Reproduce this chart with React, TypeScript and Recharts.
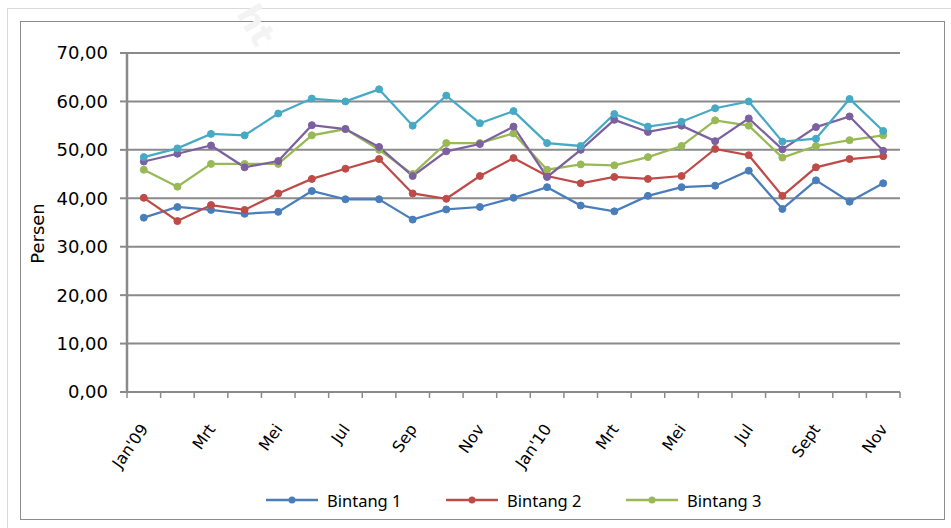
import { LineChart, Line, XAxis, YAxis, CartesianGrid, Legend } from 'recharts'

const months = [
  "Jan'09", 'Feb', 'Mrt', 'Apr', 'Mei', 'Jun', 'Jul', 'Agu', 'Sep', 'Okt', 'Nov', 'Des',
  "Jan'10", 'Feb', 'Mrt', 'Apr', 'Mei', 'Jun', 'Jul', 'Agu', 'Sept', 'Okt', 'Nov'
]

const bintang1 = [36.0, 38.2, 37.6, 36.8, 37.2, 41.5, 39.8, 39.8, 35.6, 37.7, 38.2, 40.1, 42.3, 38.5, 37.3, 40.5, 42.3, 42.6, 45.7, 37.8, 43.7, 39.3, 43.1]
const bintang2 = [40.1, 35.3, 38.6, 37.6, 41.0, 44.0, 46.1, 48.1, 41.0, 39.9, 44.6, 48.3, 44.6, 43.1, 44.4, 44.0, 44.6, 50.2, 48.9, 40.5, 46.4, 48.1, 48.7]
const bintang3 = [45.9, 42.4, 47.1, 47.1, 47.1, 53.0, 54.3, 50.0, 45.0, 51.4, 51.4, 53.4, 45.9, 47.0, 46.8, 48.5, 50.8, 56.1, 55.0, 48.4, 50.8, 52.0, 53.0]
const bintang4 = [47.6, 49.2, 50.9, 46.4, 47.7, 55.1, 54.3, 50.6, 44.6, 49.7, 51.2, 54.8, 44.4, 50.0, 56.2, 53.7, 55.0, 51.8, 56.5, 50.1, 54.7, 56.9, 49.8]
const bintang5 = [48.5, 50.3, 53.3, 53.0, 57.5, 60.6, 60.0, 62.5, 55.0, 61.2, 55.5, 58.0, 51.4, 50.8, 57.4, 54.8, 55.8, 58.6, 60.0, 51.7, 52.3, 60.5, 53.9]

const yTicks = [0, 10, 20, 30, 40, 50, 60, 70]

const series = [
  { key: 'b1', name: 'Bintang 1', color: '#4a7ebb', values: bintang1, inLegend: true },
  { key: 'b2', name: 'Bintang 2', color: '#be4b48', values: bintang2, inLegend: true },
  { key: 'b3', name: 'Bintang 3', color: '#98b954', values: bintang3, inLegend: true },
  { key: 'b4', name: 'Bintang 4', color: '#7d60a0', values: bintang4, inLegend: false },
  { key: 'b5', name: 'Bintang 5', color: '#46aac5', values: bintang5, inLegend: false }
]

const data = months.map((m, i) => {
  const row: Record<string, any> = { bulan: m }
  series.forEach((s) => { row[s.key] = s.values[i] })
  return row
})

const axisFont = 'DejaVu Sans, Verdana, sans-serif'
const gridColor = '#8a8a8a'
const HALF_BAND = 16.8

function MonthTick(props: any) {
  const { x, y, payload, index } = props
  const isLast = index === months.length - 1
  const ax = x + 5
  const ay = y + 37
  return (
    <g>
      <line x1={x - HALF_BAND} y1={y} x2={x - HALF_BAND} y2={y + 6} stroke={gridColor} strokeWidth={1.5} />
      {isLast && <line x1={x + HALF_BAND} y1={y} x2={x + HALF_BAND} y2={y + 6} stroke={gridColor} strokeWidth={1.5} />}
      {index % 2 === 0 && (
        <text
          x={ax}
          y={ay}
          textAnchor="end"
          transform={`rotate(-55, ${ax}, ${ay})`}
          fontSize={16}
          fontFamily={axisFont}
          fill="#000"
        >
          {payload.value}
        </text>
      )}
    </g>
  )
}

function PersenLabel(props: any) {
  const { viewBox } = props
  const lx = viewBox.x + 24
  const ly = viewBox.y + viewBox.height / 2 + 11
  return (
    <text
      x={lx}
      y={ly}
      textAnchor="middle"
      transform={`rotate(-90, ${lx}, ${ly})`}
      fontSize={18}
      fontFamily={axisFont}
      fill="#000"
    >
      Persen
    </text>
  )
}

function LegendBox() {
  return (
    <div style={{ position: 'relative', width: 925, height: 30 }}>
      {series.filter((s) => s.inLegend).map((s, i) => (
        <div
          key={s.key}
          style={{ position: 'absolute', left: 246 + i * 180, top: 0, height: 30, display: 'flex', alignItems: 'center' }}
        >
          <svg width={52} height={10}>
            <line x1={0} y1={5} x2={52} y2={5} stroke={s.color} strokeWidth={2.5} />
            <circle cx={26} cy={5} r={3.5} fill={s.color} />
          </svg>
          <span style={{ marginLeft: 9, fontFamily: 'Noto Sans, sans-serif', fontSize: 16.5, color: '#000' }}>{s.name}</span>
        </div>
      ))}
    </div>
  )
}

export default function App() {
  return (
    <div style={{ position: 'absolute', left: 0, top: 0, width: 951, height: 528, background: '#fff', overflow: 'hidden' }}>
      <div style={{ position: 'absolute', left: 7, top: 8, width: 960, height: 540, borderLeft: '1px solid #d9d9d9', borderTop: '1px solid #d9d9d9' }} />
      <div style={{ position: 'absolute', left: 20, top: 21, width: 923, height: 497, border: '1.5px solid #8c8c8c' }} />
      <div style={{ position: 'absolute', left: 236, top: 8, transform: 'rotate(60deg)', fontFamily: 'DejaVu Sans, sans-serif', fontWeight: 'bold', fontSize: 34, lineHeight: '34px', color: '#f3f3f3' }}>
        ht
      </div>
      <div style={{ position: 'absolute', left: 20, top: 21 }}>
        <LineChart width={925} height={499} data={data} margin={{ top: 32, right: 45, left: 0, bottom: 5 }}>
          <CartesianGrid vertical={false} stroke={gridColor} strokeWidth={2} />
          <XAxis
            dataKey="bulan"
            interval={0}
            padding={{ left: HALF_BAND, right: HALF_BAND }}
            tickLine={false}
            tickSize={0}
            tickMargin={0}
            height={93}
            axisLine={{ stroke: gridColor, strokeWidth: 2 }}
            tick={<MonthTick />}
          />
          <YAxis
            domain={[0, 70]}
            ticks={yTicks}
            width={107}
            tickFormatter={(v: number) => v.toFixed(2).replace('.', ',')}
            tick={{ fontSize: 18, fontFamily: axisFont, fill: '#000' }}
            tickSize={7}
            tickMargin={12}
            tickLine={{ stroke: gridColor, strokeWidth: 2 }}
            axisLine={{ stroke: gridColor, strokeWidth: 2.5 }}
            label={<PersenLabel />}
          />
          <Legend verticalAlign="bottom" content={<LegendBox />} wrapperStyle={{ left: 0, width: 925 }} />
          {series.map((s) => (
            <Line
              key={s.key}
              dataKey={s.key}
              name={s.name}
              stroke={s.color}
              strokeWidth={2.25}
              dot={{ r: 3.5, fill: s.color, stroke: s.color, strokeWidth: 1 }}
              activeDot={false}
              legendType={s.inLegend ? 'line' : 'none'}
              isAnimationActive={false}
            />
          ))}
        </LineChart>
      </div>
    </div>
  )
}
